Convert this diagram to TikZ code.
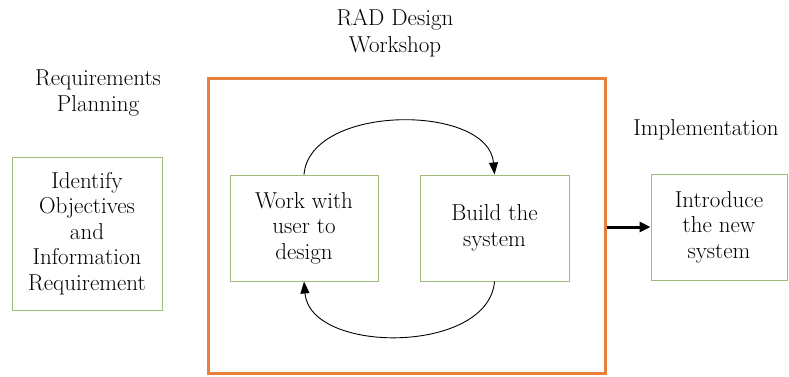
\documentclass[tikz,border=0pt]{standalone}
\usetikzlibrary{arrows.meta,calc}
\definecolor{frameorange}{RGB}{232,128,60}
\definecolor{boxgreen}{RGB}{160,185,125}
\tikzset{
  stagebox/.style={draw=boxgreen, line width=1pt, align=center, inner sep=0pt,
    font=\rmfamily\fontsize{23}{25.5}\selectfont},
  lbl/.style={align=center, font=\rmfamily\fontsize{23}{26.5}\selectfont},
  loop/.style={draw=black, line width=0.9pt, -{Triangle[length=12pt,width=9pt]}},
}
\begin{document}
\begin{tikzpicture}[x=1pt,y=-1pt]
\useasboundingbox (0,0) rectangle (789,376);
\node[lbl] (reqlbl) at (98,93) {Requirements\\Planning};
\node[lbl] (radlbl) at (395,33) {RAD Design\\Workshop};
\node[lbl] (implbl) at (706,130) {Implementation};
\node[stagebox, minimum width=150pt, minimum height=153pt] (req) at (87,233.5)
  {Identify\\Objectives\\and\\Information\\Requirement};
\node[draw=frameorange, line width=3pt, minimum width=397pt, minimum height=295pt] (frame) at (406.5,225.5) {};
\node[stagebox, minimum width=148pt, minimum height=106pt] (work) at (304,228)
  {Work with\\user to\\design};
\node[stagebox, minimum width=149pt, minimum height=106pt] (build) at (494.5,228)
  {Build the\\system};
\node[stagebox, minimum width=136pt, minimum height=106pt] (intro) at (719,227)
  {Introduce\\the new\\system};
\draw[loop] (work.north) .. controls +(6,-71) and +(-6,-71) .. (build.north);
\draw[loop] (build.south) .. controls +(-6,73) and +(6,73) .. (work.south);
\draw[line width=3pt, -{Triangle[length=11pt,width=10pt]}] (frame.east |- intro.west) -- (intro.west);
\end{tikzpicture}
\end{document}
